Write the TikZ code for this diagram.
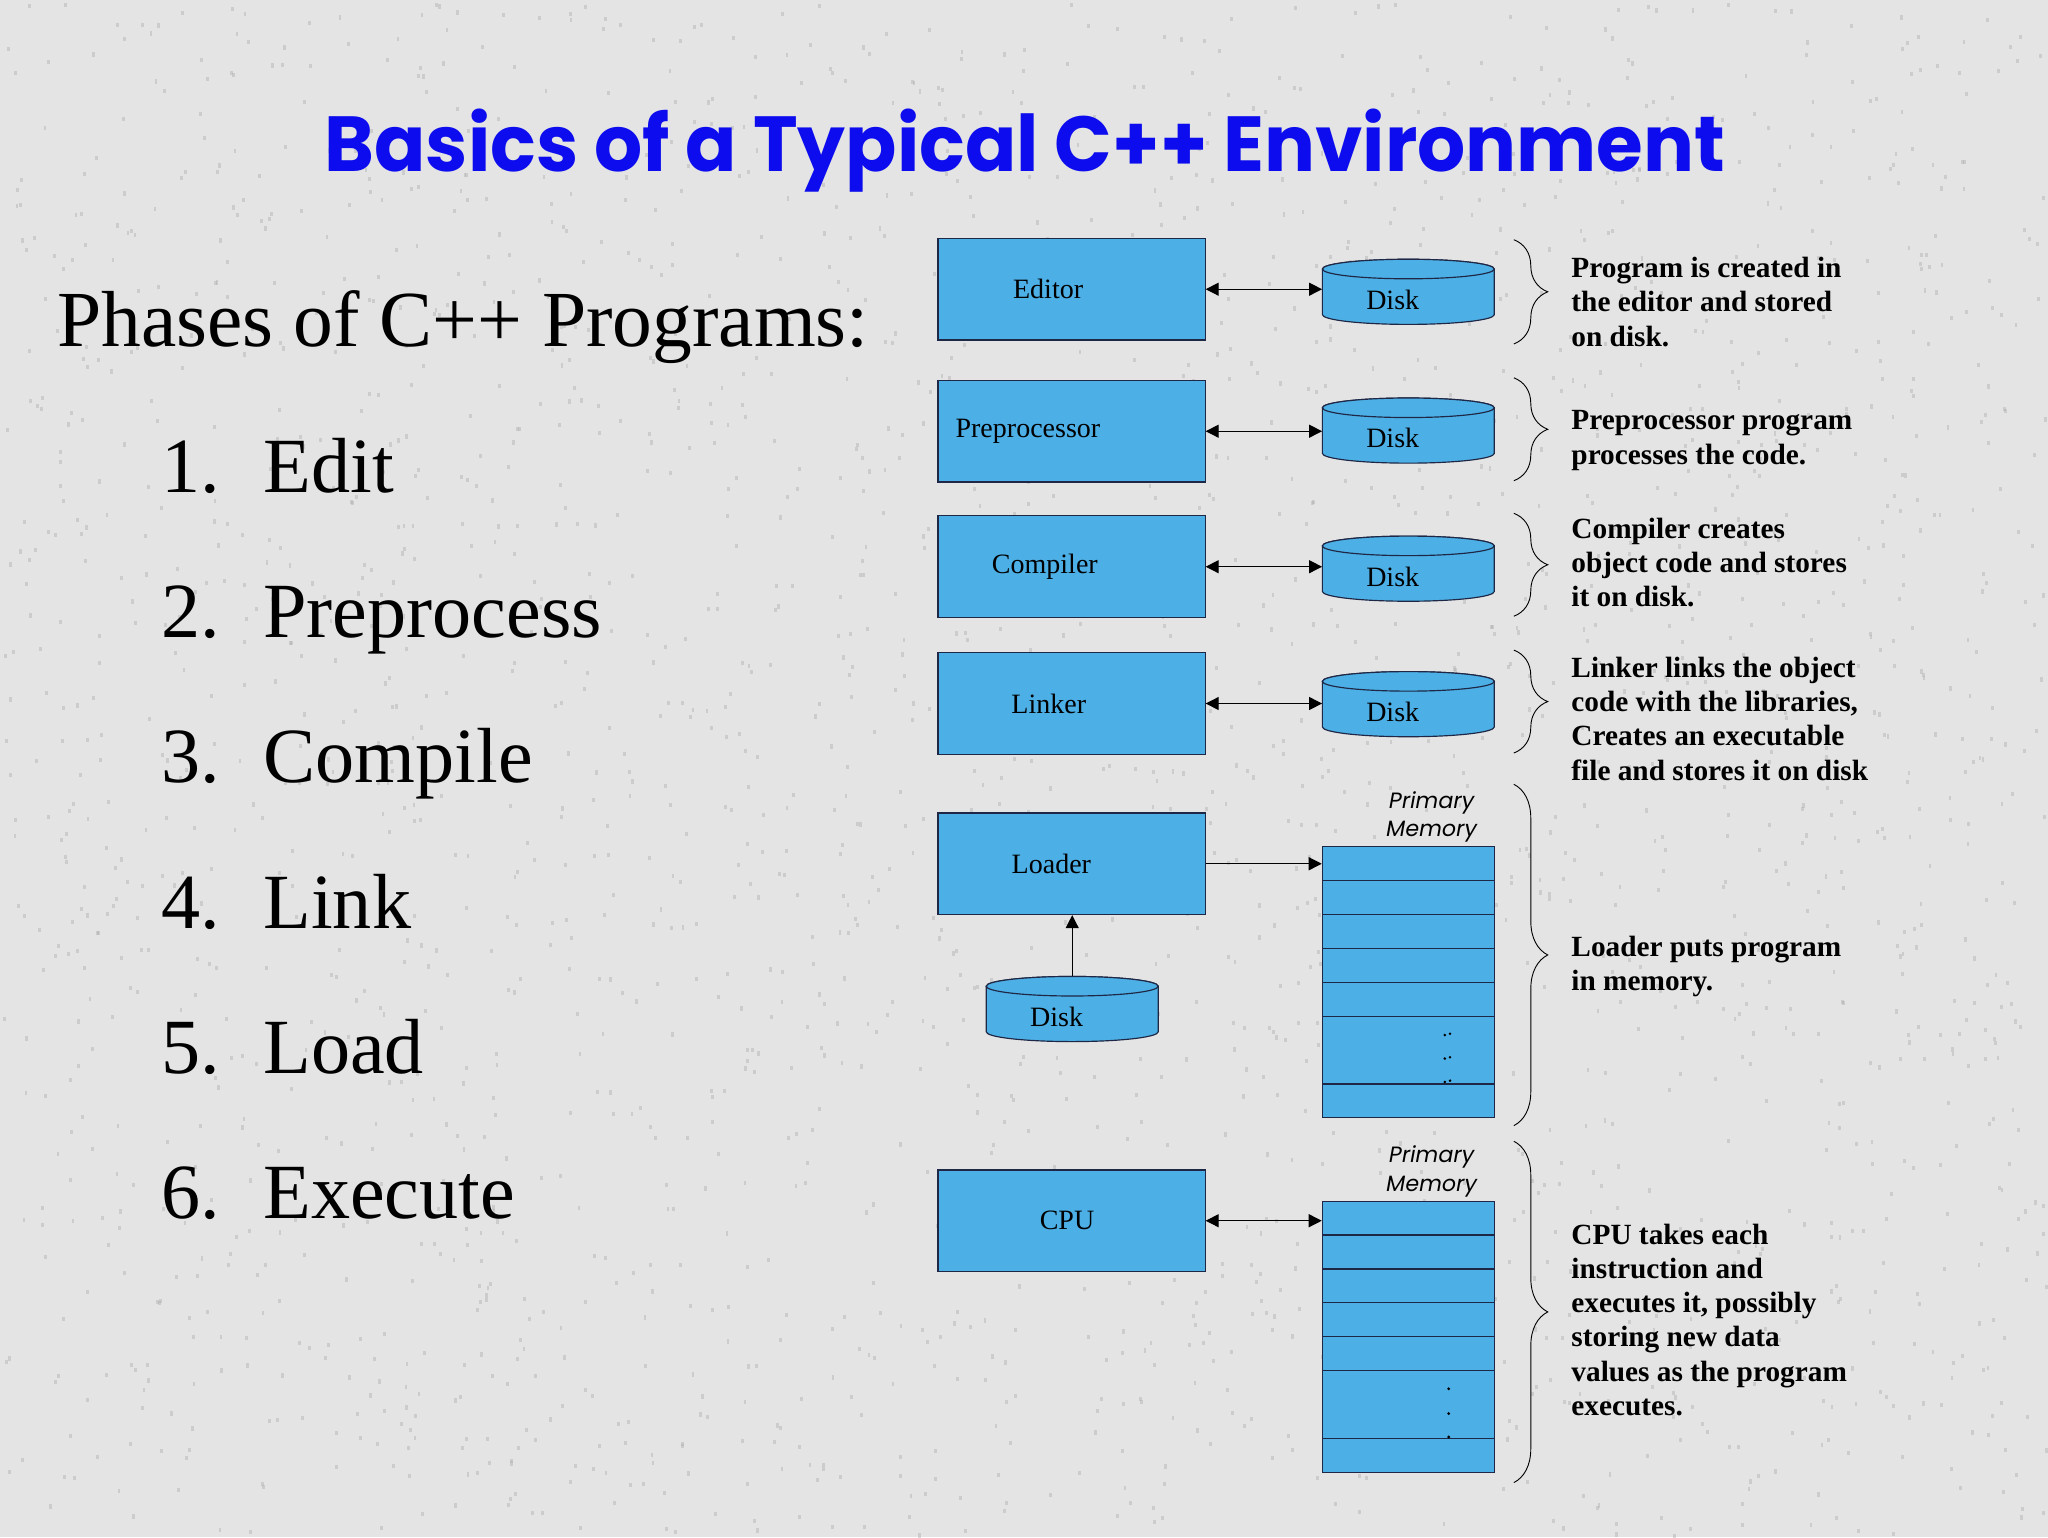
\documentclass[tikz,border=0pt]{standalone}
\usepackage{graphicx}
\usepackage{fontspec}
\setmainfont{Liberation Serif}
\newfontfamily\titlefont{Poppins}
\newfontfamily\pmfont{Poppins}[FakeSlant=0.18]
\usetikzlibrary{arrows.meta,decorations.pathreplacing,calc}
\definecolor{bg}{RGB}{228,228,228}
\definecolor{speck}{RGB}{175,175,175}
\definecolor{boxblue}{RGB}{76,175,230}
\definecolor{titleblue}{RGB}{12,12,238}
\definecolor{edge}{RGB}{30,40,70}
\newcommand\drawdisk[4]{%
  \node[diskbox] (#1) at (#2,#3) {};
  \filldraw[diskshape] (#2-66,#3-17.5) -- (#2-66,#3+17.5)
     arc[start angle=180,end angle=0,x radius=66,y radius=7.5]
     -- (#2+66,#3-17.5)
     arc[start angle=0,end angle=-180,x radius=66,y radius=7.5] -- cycle;
  \filldraw[diskshape] (#2,#3-17.5) ellipse [x radius=66, y radius=7.5];
  \node[lbl] (#1l) at (#2-12,#3+6) {#4};
}
\begin{document}
\begin{tikzpicture}[x=1pt,y=-1pt,
  box/.style={draw=edge, line width=0.9pt, fill=boxblue, minimum width=205pt, minimum height=78pt, inner sep=0pt},
  lbl/.style={font=\fontsize{21.5}{24}\selectfont, inner sep=0pt},
  diskbox/.style={minimum width=132pt, minimum height=50pt, inner sep=0pt},
  diskshape/.style={draw=edge, line width=0.9pt, fill=boxblue},
  mem/.style={draw=edge, line width=0.9pt, fill=boxblue, minimum width=132pt, minimum height=208pt, inner sep=0pt},
  memline/.style={draw=edge, line width=0.9pt},
  conn/.style={line width=0.9pt, {Triangle[length=10pt,width=10pt]}-{Triangle[length=10pt,width=10pt]}},
  conn1/.style={line width=0.9pt, -{Triangle[length=10pt,width=10pt]}},
  bracestyle/.style={decorate, decoration={brace, amplitude=26pt}, line width=0.7pt},
  desc/.style={anchor=base west, inner sep=0pt, font=\fontsize{22.5}{26.3}\selectfont\bfseries},
  item/.style={anchor=base west, inner sep=0pt, font=\fontsize{60}{62}\selectfont},
  pm/.style={align=center, inner sep=0pt, font=\pmfont\fontsize{17}{22}\selectfont}
]
\fill[bg] (-2,-2) rectangle (1570,1178);
\useasboundingbox (0,0) rectangle (1568,1176);
% granite speckle
\pgfmathsetseed{4217}
\foreach \i in {1,...,2600} {
  \pgfmathsetmacro\sx{1568*rnd}
  \pgfmathsetmacro\sy{1176*rnd}
  \fill[speck, opacity=0.45] (\sx,\sy) rectangle ++(2.2,3.2);
}

% title
\node[anchor=base west, inner sep=0pt, text=titleblue] (title) at (247,130)
  {\resizebox{1075pt}{48pt}{\titlefont\bfseries Basics of a Typical C++ Environment}};

% left list
\node[anchor=base west, inner sep=0pt, font=\fontsize{61}{61}\selectfont] (hd) at (42,264) {Phases of C++ Programs:};
\node[item] (n1) at (122,376) {1.}; \node[item] (t1) at (200,376) {Edit};
\node[item] (n2) at (122,487.5) {2.}; \node[item] (t2) at (200,487.5) {Preprocess};
\node[item] (n3) at (122,599) {3.}; \node[item] (t3) at (200,599) {Compile};
\node[item] (n4) at (122,710.5) {4.}; \node[item] (t4) at (200,710.5) {Link};
\node[item] (n5) at (122,822) {5.}; \node[item] (t5) at (200,822) {Load};
\node[item] (n6) at (122,933.5) {6.}; \node[item] (t6) at (200,933.5) {Execute};

% boxes
\node[box, label={[lbl,xshift=-18pt]center:Editor}] (ed) at (820.5,220) {};
\node[box, label={[lbl,xshift=-33.5pt]center:Preprocessor}] (pp) at (820.5,329) {};
\node[box, label={[lbl,xshift=-20.5pt]center:Compiler}] (cp) at (820.5,433) {};
\node[box, label={[lbl,xshift=-17.5pt]center:Linker}] (lk) at (820.5,538) {};
\node[box, label={[lbl,xshift=-15.5pt]center:Loader}] (ld) at (820.5,661) {};
\node[box, label={[lbl,xshift=-3.5pt]center:CPU}] (cpu) at (820.5,935) {};

% disks
\drawdisk{d1}{1079}{222}{Disk}
\drawdisk{d2}{1079}{328.5}{Disk}
\drawdisk{d3}{1079}{434.5}{Disk}
\drawdisk{d4}{1079}{538.5}{Disk}
\drawdisk{d5}{821}{772.5}{Disk}

% memories
\node[mem] (m1) at (1079,752) {};
\foreach \yy in {674,700,726,752,778,830} \draw[memline] (1013,\yy) -- (1145,\yy);
\node[mem] (m2) at (1079,1024) {};
\foreach \yy in {946,972,998,1024,1050,1102} \draw[memline] (1013,\yy) -- (1145,\yy);
\foreach \yy in {792,810,828} {\fill (1107,\yy+0.5) circle (1.1); \fill (1111,\yy-0.5) circle (1.1);}
\foreach \yy in {1064,1083,1101} {\fill (1110,\yy) circle (1.2);}

\node[pm] (pm1) at (1096,625) {Primary\\Memory};
\node[pm] (pm2) at (1096,897) {Primary\\Memory};

% connectors
\draw[conn] (ed.east) -- (ed.east -| d1.west);
\draw[conn] (pp.east) -- (pp.east -| d2.west);
\draw[conn] (cp.east) -- (cp.east -| d3.west);
\draw[conn] (lk.east) -- (lk.east -| d4.west);
\draw[conn1] (ld.east) -- (ld.east -| m1.west);
\draw[conn1] (d5.north) -- (d5.north |- ld.south);
\draw[conn] (cpu.east) -- (cpu.east -| m2.west);

% braces
\draw[bracestyle] (1160,182) -- (1160,262);
\draw[bracestyle] (1160,288) -- (1160,367);
\draw[bracestyle] (1160,392) -- (1160,471);
\draw[bracestyle] (1160,497) -- (1160,576);
\draw[bracestyle] (1160,600) -- (1160,862);
\draw[bracestyle] (1160,874) -- (1160,1136);

% descriptions
\node[desc] (e1) at (1204,211) {\parbox[t]{340pt}{\raggedright Program is created in\\the editor and stored\\on disk.}};
\node[desc] (e2) at (1204,328) {\parbox[t]{340pt}{\raggedright Preprocessor program\\processes the code.}};
\node[desc] (e3) at (1204,411) {\parbox[t]{340pt}{\raggedright Compiler creates\\object code and stores\\it on disk.}};
\node[desc] (e4) at (1204,518) {\parbox[t]{340pt}{\raggedright Linker links the object\\code with the libraries,\\Creates an executable\\file and stores it on disk}};
\node[desc] (e5) at (1204,732) {\parbox[t]{340pt}{\raggedright Loader puts program\\in memory.}};
\node[desc] (e6) at (1204,953) {\parbox[t]{340pt}{\raggedright CPU takes each\\instruction and\\executes it, possibly\\storing new data\\values as the program\\executes.}};
\end{tikzpicture}
\end{document}
